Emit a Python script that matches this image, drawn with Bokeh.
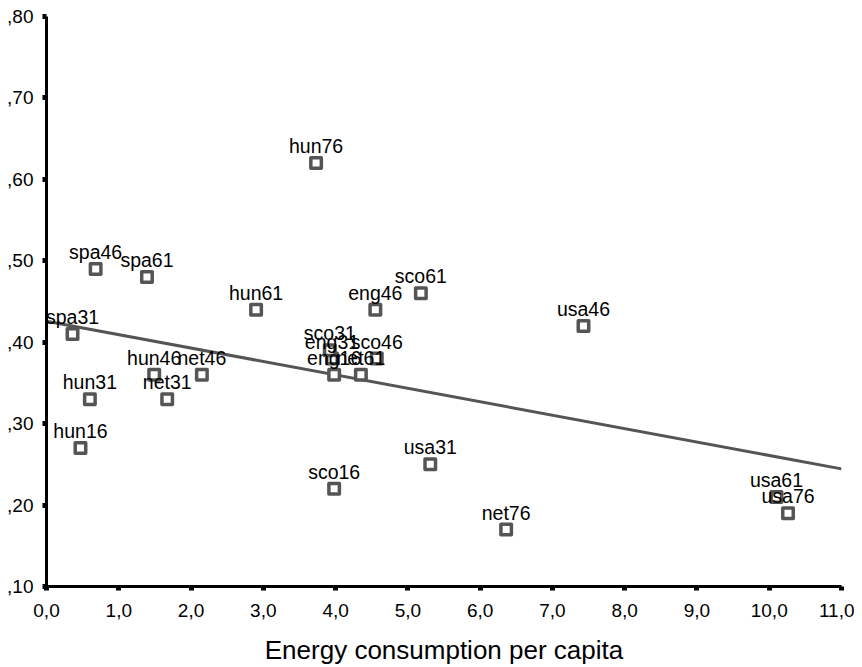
import numpy as np
from bokeh.plotting import figure
from bokeh.models import Range1d, FixedTicker, CustomJSTickFormatter, ColumnDataSource, LabelSet
from bokeh.core.properties import value
from bokeh.embed import file_html
from bokeh.resources import INLINE

# ---- data ----
labels = ["spa31", "spa46", "spa61", "hun16", "hun31", "hun46", "hun61", "hun76",
          "net31", "net46", "net61", "net76", "eng16", "eng31", "eng46",
          "sco16", "sco31", "sco46", "sco61", "usa31", "usa46", "usa61", "usa76"]
energy = [0.36, 0.68, 1.39, 0.47, 0.60, 1.49, 2.90, 3.73,
          1.67, 2.15, 4.35, 6.36, 3.98, 3.95, 4.55,
          3.98, 3.92, 4.57, 5.18, 5.31, 7.43, 10.10, 10.26]
share = [0.41, 0.49, 0.48, 0.27, 0.33, 0.36, 0.44, 0.62,
         0.33, 0.36, 0.36, 0.17, 0.36, 0.38, 0.44,
         0.22, 0.39, 0.38, 0.46, 0.25, 0.42, 0.21, 0.19]
x_ticks = [0, 1, 2, 3, 4, 5, 6, 7, 8, 9, 10, 11]
y_ticks = [0.1, 0.2, 0.3, 0.4, 0.5, 0.6, 0.7, 0.8]
x_title = "Energy consumption per capita"

FONT = "Liberation Sans"
GREY = "#555555"

p = figure(frame_width=795, frame_height=570,
           x_range=Range1d(x_ticks[0], x_ticks[-1]),
           y_range=Range1d(y_ticks[0], y_ticks[-1]),
           output_backend="svg", toolbar_location=None,
           min_border_left=46, min_border_right=13, min_border_top=16, min_border_bottom=0)
p.outline_line_color = None
p.grid.visible = False
p.background_fill_color = "white"
p.border_fill_color = "white"

# regression line (least squares fit of the points)
slope, intercept = np.polyfit(np.array(energy), np.array(share), 1)
lx = np.array([x_ticks[0], x_ticks[-1]], dtype=float)
p.line(lx, intercept + slope * lx, line_color=GREY, line_width=3)

src = ColumnDataSource(dict(x=energy, y=share, lab=labels))
p.scatter("x", "y", source=src, marker="square", size=10.5, line_width=3.5,
          line_color=GREY, fill_color="white", line_join="round")
p.add_layout(LabelSet(x="x", y="y", text="lab", source=src, y_offset=10,
                      text_align="center", text_baseline="alphabetic",
                      text_font=value(FONT), text_font_size=value("19.5px"),
                      text_color="black"))

for ax in (p.xaxis[0], p.yaxis[0]):
    ax.axis_line_width = 3
    ax.axis_line_color = "black"
    ax.major_tick_line_width = 5
    ax.major_tick_line_color = "black"
    ax.major_tick_out = 4
    ax.major_tick_in = 0
    ax.minor_tick_line_color = None
    ax.major_label_text_font = FONT
    ax.major_label_text_font_size = "19px"
    ax.major_label_text_color = "black"

p.xaxis.ticker = FixedTicker(ticks=x_ticks)
p.yaxis.ticker = FixedTicker(ticks=y_ticks)
p.xaxis.formatter = CustomJSTickFormatter(code="return tick.toFixed(1).replace('.', ',');")
p.yaxis.formatter = CustomJSTickFormatter(code="return tick.toFixed(2).replace('0.', ',');")
p.xaxis.major_label_standoff = 13
p.yaxis.major_label_standoff = 9

p.xaxis.axis_label = x_title
p.xaxis.axis_label_text_font = FONT
p.xaxis.axis_label_text_font_size = "26px"
p.xaxis.axis_label_text_font_style = "normal"
p.xaxis.axis_label_text_color = "black"
p.xaxis.axis_label_standoff = 15

open("out.html", "w").write(file_html(p, INLINE))
